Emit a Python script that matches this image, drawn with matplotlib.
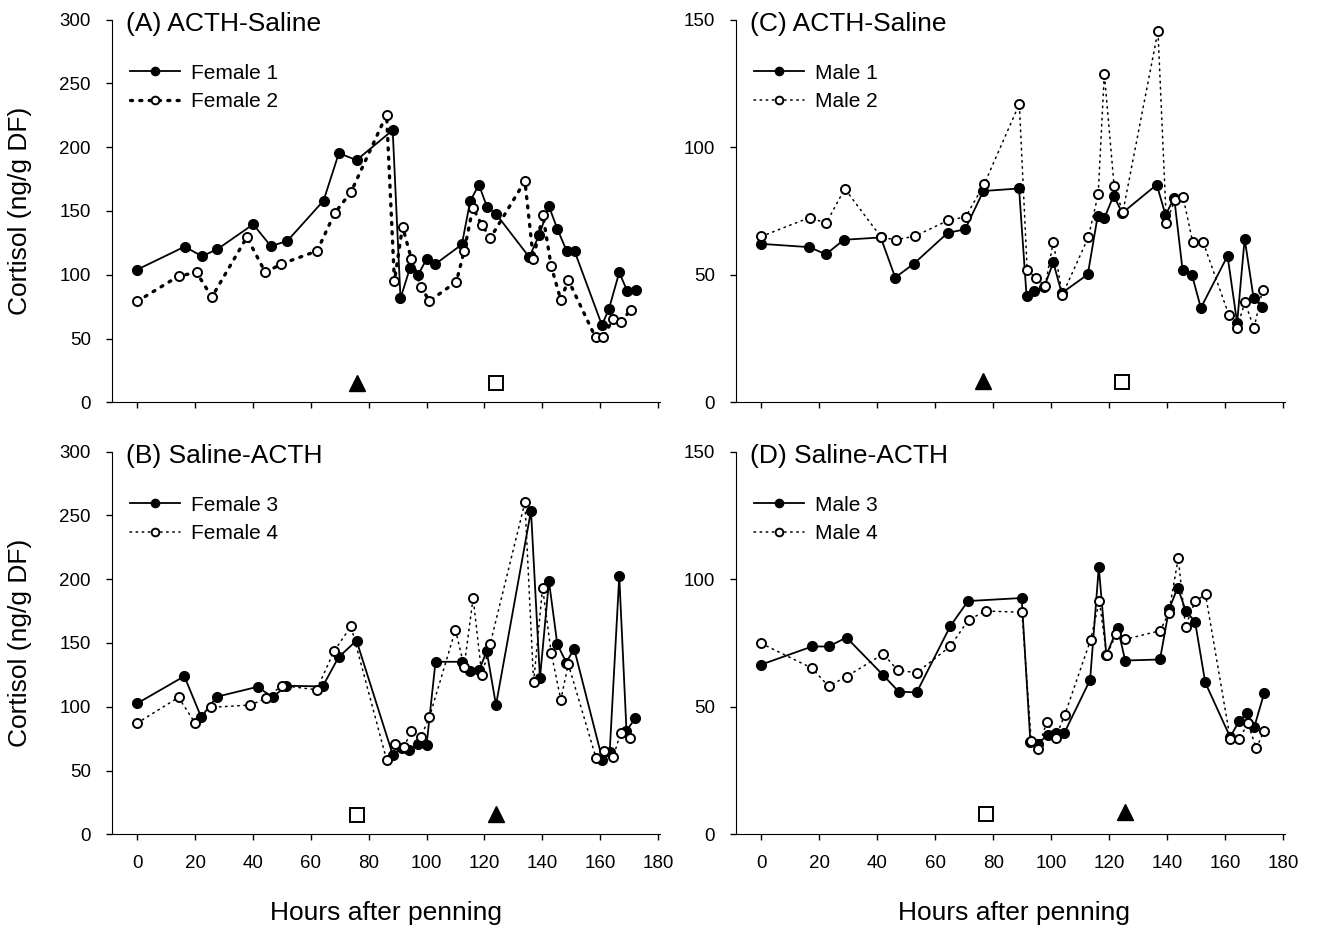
import numpy as np
import matplotlib.pyplot as plt

plt.rcParams['font.family'] = ['Liberation Sans', 'DejaVu Sans']

# ---- data (hours after penning, cortisol ng/g DF) ----
f1_h = [0, 16.4, 22.4, 27.7, 40.1, 46.2, 51.9, 64.4, 69.7, 75.8, 88.3, 91.0, 94.3, 97.0, 100.1, 103.0,
        112.2, 115.1, 118.1, 120.9, 124.0, 135.5, 139.0, 142.3, 145.2, 148.5, 151.2, 160.6, 163.0, 166.6, 169.3, 172.4]
f1_c = [104, 122, 114.5, 120, 139.5, 122.4, 126.5, 158, 195.3, 189.8, 213.3, 81.5, 105.4, 99.7, 112.5, 108.3,
        123.7, 157.8, 170.5, 153.1, 147.7, 113.8, 131.5, 153.6, 135.9, 118.2, 118.2, 60.6, 72.9, 101.8, 87.5, 87.7]

f2_h = [0, 14.3, 20.5, 25.8, 37.9, 44.3, 49.7, 62.2, 68.2, 73.9, 86.2, 88.9, 91.7, 94.8, 98.1, 101.0,
        110.3, 113.0, 116.0, 119.0, 122.1, 134.0, 136.9, 140.2, 143.1, 146.4, 149.0, 158.4, 161.0, 164.5, 167.1, 170.5]
f2_c = [79.1, 98.9, 101.8, 82.5, 129.4, 101.8, 108.3, 118.7, 148.1, 164.8, 225.5, 94.8, 137.7, 112, 90.3, 79.4,
        94.5, 118.5, 152.6, 139.3, 128.9, 173.4, 112.5, 146.9, 106.5, 80.2, 95.8, 50.8, 50.8, 65.6, 62.7, 72.3]

f3_h = [0, 16.3, 22.1, 27.5, 41.6, 46.8, 51.6, 64.1, 69.6, 75.8, 88.3, 91.4, 94.1, 97.0, 100.0, 103.1,
        112.2, 115.1, 118.1, 120.8, 124.0, 136.1, 139.2, 142.3, 145.2, 148.3, 151.0, 160.8, 163.3, 166.6, 169.1, 172.2]
f3_c = [102.6, 123.9, 91.9, 107.8, 115.6, 107.5, 116.4, 115.9, 138.8, 151.8, 62.5, 68.0, 66.4, 71.1, 69.8, 135.2,
        135.2, 127.6, 128.4, 143.4, 101.3, 253.6, 122.3, 198.4, 148.9, 134.6, 145.5, 58.3, 64.6, 202.3, 81.2, 91.1]

f4_h = [0, 14.3, 20.0, 25.5, 39.1, 44.5, 50.0, 62.0, 68.1, 73.9, 86.2, 89.0, 92.1, 94.8, 98.1, 101.0,
        110.0, 113.0, 116.1, 119.1, 122.0, 134.0, 137.0, 140.1, 143.1, 146.4, 149.0, 158.6, 161.2, 164.5, 167.1, 170.3]
f4_c = [87.2, 107.3, 87.2, 99.5, 101.3, 106.5, 116.6, 113.3, 143.8, 163.0, 58.3, 70.8, 68.2, 80.7, 76.6, 91.9,
        160.2, 131.5, 185.4, 124.7, 149.2, 260.2, 119.0, 193.4, 141.9, 105.5, 133.3, 59.6, 65.1, 60.6, 79.4, 75.2]

m1_h = [0, 16.6, 22.3, 28.5, 41.2, 46.2, 52.6, 64.3, 70.3, 76.6, 88.9, 91.5, 94.0, 97.6, 100.7, 103.6,
        112.6, 116.0, 118.3, 121.5, 124.5, 136.4, 139.4, 142.4, 145.3, 148.5, 151.6, 160.8, 164.1, 166.7, 169.8, 172.7]
m1_c = [62.1, 60.8, 58.0, 63.7, 64.6, 48.9, 54.3, 66.4, 67.8, 82.8, 83.8, 41.5, 43.5, 45.2, 54.9, 42.8,
        50.1, 72.9, 72.1, 81.0, 74.2, 85.3, 73.4, 80.1, 51.7, 50.0, 37.0, 57.4, 31.1, 64.1, 40.7, 37.5]

m2_h = [0, 16.7, 22.4, 28.8, 41.4, 46.4, 52.9, 64.5, 70.5, 76.9, 89.0, 91.7, 94.6, 97.9, 100.7, 103.8,
        112.8, 116.2, 118.3, 121.7, 124.7, 136.8, 139.7, 142.6, 145.5, 148.8, 152.3, 161.2, 164.1, 166.8, 169.9, 172.9]
m2_c = [65.0, 72.4, 70.2, 83.7, 64.6, 63.7, 65.1, 71.3, 72.7, 85.5, 116.9, 51.8, 48.9, 45.5, 63.0, 42.0,
        64.7, 81.6, 128.8, 84.6, 74.5, 145.5, 70.4, 79.3, 80.3, 62.7, 63.0, 34.4, 29.3, 39.3, 29.0, 44.1]

m3_h = [0, 17.5, 23.2, 29.4, 42.1, 47.4, 53.6, 65.2, 71.3, 89.8, 92.8, 95.3, 98.8, 101.5, 104.5,
        113.4, 116.4, 119.0, 122.9, 125.5, 137.5, 140.6, 143.6, 146.4, 149.6, 153.1, 161.7, 164.8, 167.5, 170.0, 173.4]
m3_c = [66.5, 73.6, 73.6, 77.1, 62.3, 55.9, 55.6, 81.6, 91.4, 92.6, 36.3, 35.5, 38.9, 39.7, 39.7,
        60.5, 104.7, 70.2, 81.0, 68.1, 68.5, 88.1, 96.7, 87.6, 83.3, 59.5, 38.1, 44.4, 47.4, 42.0, 55.2]

m4_h = [0, 17.5, 23.2, 29.4, 42.1, 47.0, 53.6, 65.2, 71.5, 77.5, 89.9, 93.1, 95.3, 98.5, 101.5, 104.6,
        113.6, 116.6, 119.1, 122.4, 125.5, 137.6, 140.5, 143.8, 146.3, 149.6, 153.2, 161.7, 164.8, 167.8, 170.7, 173.4]
m4_c = [74.8, 65.1, 58.0, 61.8, 70.7, 64.3, 63.3, 73.7, 84.1, 87.5, 87.0, 36.6, 33.3, 44.0, 37.9, 46.6,
        76.3, 91.5, 70.2, 78.4, 76.4, 79.8, 86.7, 108.2, 81.4, 91.3, 94.0, 37.5, 37.2, 43.6, 33.7, 40.5]

# injection markers: (hour, level) of ACTH (triangle) and saline (square)
acth_A, sal_A = (75.9, 15), (124.0, 15)
acth_B, sal_B = (124.0, 16), (75.8, 15)
acth_C, sal_C = (76.5, 8.5), (124.5, 8)
acth_D, sal_D = (125.5, 8.8), (77.6, 8)

titles = ['(A) ACTH-Saline', '(B) Saline-ACTH', '(C) ACTH-Saline', '(D) Saline-ACTH']

fig = plt.figure(figsize=(13.19, 9.30), dpi=100)
axA = fig.add_axes([0.0847, 0.5674, 0.4155, 0.4116])
axC = fig.add_axes([0.5578, 0.5674, 0.4164, 0.4116])
axB = fig.add_axes([0.0847, 0.1029, 0.4155, 0.4116])
axD = fig.add_axes([0.5578, 0.1029, 0.4164, 0.4116])

thin_dot = (0, (1, 3))
fat_dot = (0, (0.6, 2.2))

panels = [
    (axA, f1_h, f1_c, 'Female 1', f2_h, f2_c, 'Female 2', fat_dot, 2.4, acth_A, sal_A, 300, titles[0]),
    (axB, f3_h, f3_c, 'Female 3', f4_h, f4_c, 'Female 4', thin_dot, 1.1, acth_B, sal_B, 300, titles[1]),
    (axC, m1_h, m1_c, 'Male 1', m2_h, m2_c, 'Male 2', thin_dot, 1.1, acth_C, sal_C, 150, titles[2]),
    (axD, m3_h, m3_c, 'Male 3', m4_h, m4_c, 'Male 4', thin_dot, 1.1, acth_D, sal_D, 150, titles[3]),
]

for ax, h1, c1, l1, h2, c2, l2, dstyle, dlw, acth, sal, ytop, title in panels:
    ax.plot(h1, c1, color='black', lw=1.3, marker='o', ms=7, mfc='black', mec='black', label=l1, zorder=3)
    ax.plot(h2, c2, color='black', lw=dlw, ls=dstyle, dash_capstyle='round', marker='o', ms=6.5,
            mfc='white', mec='black', mew=1.4, label=l2, zorder=4)
    ax.plot(acth[0], acth[1], marker='^', ms=12, color='black', ls='none')
    ax.plot(sal[0], sal[1], marker='s', ms=10, mfc='white', mec='black', mew=1.4, ls='none')

    ax.set_xlim(-8.8, 180.6)
    ax.set_ylim(0, ytop)
    ax.set_xticks(np.arange(0, 181, 20))
    ax.set_yticks(np.arange(0, ytop + 1, 50))
    for s in ['top', 'right']:
        ax.spines[s].set_visible(False)
    ax.tick_params(direction='out', length=4, width=1, labelsize=13.5, pad=11)

    ax.text(0.026, 0.971, title, transform=ax.transAxes, fontsize=19, va='baseline', ha='left')
    leg = ax.legend(loc='upper left', bbox_to_anchor=(0.033, 0.885), frameon=False, fontsize=15,
                    handlelength=2.4, handletextpad=0.55, labelspacing=0.45, borderpad=0,
                    borderaxespad=0, markerscale=0.85)

for ax in (axA, axC):
    ax.tick_params(labelbottom=False)

fig.text(20 / 1319, 1 - 211 / 930, 'Cortisol (ng/g DF)', rotation=90, ha='center', va='center', fontsize=19)
fig.text(20 / 1319, 1 - 643 / 930, 'Cortisol (ng/g DF)', rotation=90, ha='center', va='center', fontsize=19)
fig.text(386 / 1319, 1 - 913 / 930, 'Hours after penning', ha='center', va='center', fontsize=19)
fig.text(1014 / 1319, 1 - 913 / 930, 'Hours after penning', ha='center', va='center', fontsize=19)

fig.savefig('out.png', dpi=100)
